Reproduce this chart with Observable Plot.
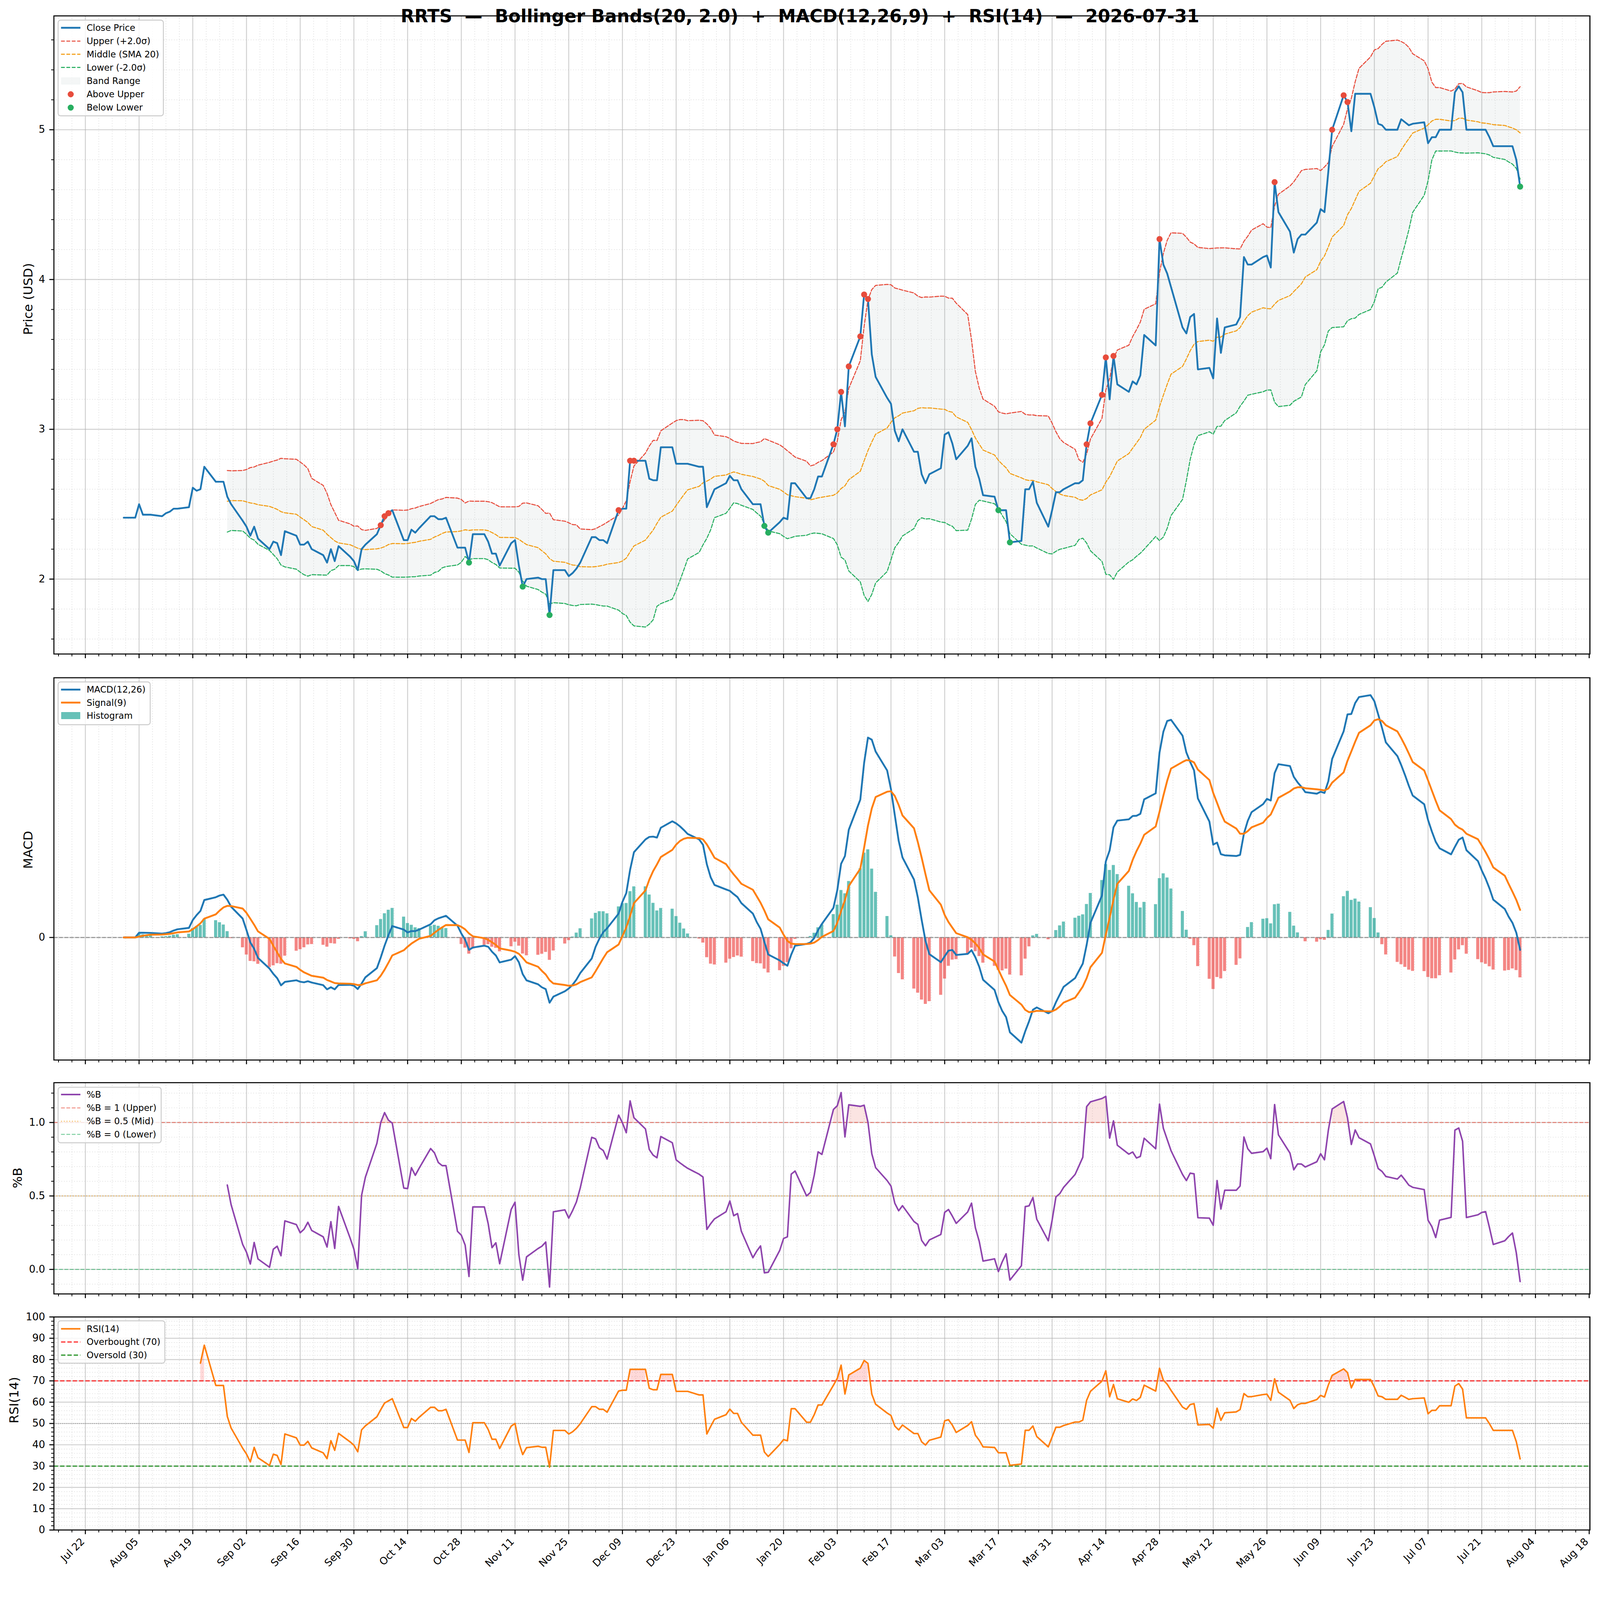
<!DOCTYPE html>
<html><head><meta charset="utf-8">
<script src="https://cdn.jsdelivr.net/npm/d3@7"></script>
<script src="https://cdn.jsdelivr.net/npm/@observablehq/plot@0.6"></script>
<style>
html,body{margin:0;padding:0;background:#fff;overflow:hidden;}
#page{position:relative;width:4378px;height:4322px;overflow:hidden;font-family:"DejaVu Sans",sans-serif;background:#fff;transform-origin:0 0;}
#page > svg{position:absolute;left:0;max-width:none;}
</style></head><body><div id="page"></div>
<script>
// ---------------- DATA ----------------
const dates = [
"2025-08-01",
"2025-08-04","2025-08-05","2025-08-06","2025-08-07","2025-08-08",
"2025-08-11","2025-08-12","2025-08-13","2025-08-14","2025-08-15",
"2025-08-18","2025-08-19","2025-08-20","2025-08-21","2025-08-22",
"2025-08-25","2025-08-26","2025-08-27","2025-08-28","2025-08-29",
"2025-09-01","2025-09-02","2025-09-03","2025-09-04","2025-09-05",
"2025-09-08","2025-09-09","2025-09-10","2025-09-11","2025-09-12",
"2025-09-15","2025-09-16","2025-09-17","2025-09-18","2025-09-19",
"2025-09-22","2025-09-23","2025-09-24","2025-09-25","2025-09-26",
"2025-09-29","2025-09-30","2025-10-01","2025-10-02","2025-10-03",
"2025-10-06","2025-10-07","2025-10-08","2025-10-09","2025-10-10",
"2025-10-13","2025-10-14","2025-10-15","2025-10-16","2025-10-17",
"2025-10-20","2025-10-21","2025-10-22","2025-10-23","2025-10-24",
"2025-10-27","2025-10-28","2025-10-29","2025-10-30","2025-10-31",
"2025-11-03","2025-11-04","2025-11-05","2025-11-06","2025-11-07",
"2025-11-10","2025-11-11","2025-11-12","2025-11-13","2025-11-14",
"2025-11-17","2025-11-18","2025-11-19","2025-11-20","2025-11-21",
"2025-11-24","2025-11-25","2025-11-26","2025-11-27","2025-11-28",
"2025-12-01","2025-12-02","2025-12-03","2025-12-04","2025-12-05",
"2025-12-08","2025-12-09","2025-12-10","2025-12-11","2025-12-12",
"2025-12-15","2025-12-16","2025-12-17","2025-12-18","2025-12-19",
"2025-12-22","2025-12-23","2025-12-24","2025-12-25","2025-12-26",
"2025-12-29","2025-12-30","2025-12-31","2026-01-01","2026-01-02",
"2026-01-05","2026-01-06","2026-01-07","2026-01-08","2026-01-09",
"2026-01-12","2026-01-13","2026-01-14","2026-01-15","2026-01-16",
"2026-01-19","2026-01-20","2026-01-21","2026-01-22","2026-01-23",
"2026-01-26","2026-01-27","2026-01-28","2026-01-29","2026-01-30",
"2026-02-02","2026-02-03","2026-02-04","2026-02-05","2026-02-06",
"2026-02-09","2026-02-10","2026-02-11","2026-02-12","2026-02-13",
"2026-02-16","2026-02-17","2026-02-18","2026-02-19","2026-02-20",
"2026-02-23","2026-02-24","2026-02-25","2026-02-26","2026-02-27",
"2026-03-02","2026-03-03","2026-03-04","2026-03-05","2026-03-06",
"2026-03-09","2026-03-10","2026-03-11","2026-03-12","2026-03-13",
"2026-03-16","2026-03-17","2026-03-18","2026-03-19","2026-03-20",
"2026-03-23","2026-03-24","2026-03-25","2026-03-26","2026-03-27",
"2026-03-30","2026-03-31","2026-04-01","2026-04-02","2026-04-03",
"2026-04-06","2026-04-07","2026-04-08","2026-04-09","2026-04-10",
"2026-04-13","2026-04-14","2026-04-15","2026-04-16","2026-04-17",
"2026-04-20","2026-04-21","2026-04-22","2026-04-23","2026-04-24",
"2026-04-27","2026-04-28","2026-04-29","2026-04-30","2026-05-01",
"2026-05-04","2026-05-05","2026-05-06","2026-05-07","2026-05-08",
"2026-05-11","2026-05-12","2026-05-13","2026-05-14","2026-05-15",
"2026-05-18","2026-05-19","2026-05-20","2026-05-21","2026-05-22",
"2026-05-25","2026-05-26","2026-05-27","2026-05-28","2026-05-29",
"2026-06-01","2026-06-02","2026-06-03","2026-06-04","2026-06-05",
"2026-06-08","2026-06-09","2026-06-10","2026-06-11","2026-06-12",
"2026-06-15","2026-06-16","2026-06-17","2026-06-18","2026-06-19",
"2026-06-22","2026-06-23","2026-06-24","2026-06-25","2026-06-26",
"2026-06-29","2026-06-30","2026-07-01","2026-07-02","2026-07-03",
"2026-07-06","2026-07-07","2026-07-08","2026-07-09","2026-07-10",
"2026-07-13","2026-07-14","2026-07-15","2026-07-16","2026-07-17",
"2026-07-20","2026-07-21","2026-07-22","2026-07-23","2026-07-24",
"2026-07-27","2026-07-28","2026-07-29","2026-07-30","2026-07-31"
];
const closes = [
2.41,
2.41,2.50,2.43,2.43,2.43,
2.42,2.44,2.45,2.47,2.47,
2.48,2.61,2.59,2.60,2.75,
2.65,2.65,2.65,2.55,2.50,
2.39,2.35,2.29,2.35,2.27,
2.20,2.25,2.24,2.16,2.32,
2.29,2.23,2.23,2.25,2.20,
2.16,2.11,2.20,2.12,2.22,
2.15,2.12,2.06,2.20,2.23,
2.30,2.36,2.42,2.44,2.46,
2.26,2.26,2.33,2.31,2.34,
2.42,2.42,2.40,2.40,2.41,
2.21,2.21,2.21,2.11,2.30,
2.30,2.25,2.17,2.17,2.09,
2.24,2.26,2.09,1.95,2.00,
2.01,2.00,2.00,1.76,2.06,
2.06,2.02,2.04,2.07,2.11,
2.28,2.28,2.26,2.26,2.24,
2.46,2.47,2.47,2.79,2.79,
2.79,2.67,2.66,2.66,2.88,
2.88,2.77,2.77,2.77,2.77,
2.75,2.75,2.48,2.54,2.60,
2.64,2.69,2.66,2.66,2.60,
2.50,2.50,2.50,2.355,2.31,
2.38,2.41,2.40,2.64,2.64,
2.54,2.54,2.60,2.685,2.685,
2.90,3.00,3.25,3.02,3.42,
3.62,3.90,3.87,3.50,3.35,
3.21,3.17,2.99,2.92,3.00,
2.85,2.85,2.70,2.64,2.70,
2.74,2.965,2.98,2.905,2.80,
2.89,2.94,2.75,2.67,2.56,
2.55,2.46,2.46,2.46,2.245,
2.255,2.60,2.60,2.65,2.51,
2.35,2.46,2.58,2.58,2.60,
2.64,2.64,2.66,2.90,3.04,
3.23,3.48,3.20,3.49,3.30,
3.25,3.32,3.30,3.36,3.63,
3.56,4.27,4.10,4.04,3.95,
3.68,3.64,3.75,3.77,3.40,
3.41,3.34,3.74,3.51,3.68,
3.70,3.75,4.15,4.10,4.10,
4.15,4.16,4.08,4.65,4.45,
4.32,4.18,4.27,4.30,4.30,
4.38,4.47,4.45,4.72,5.00,
5.23,5.185,4.99,5.24,5.24,
5.24,5.15,5.04,5.03,5.00,
5.00,5.07,5.05,5.03,5.04,
5.05,4.91,4.95,4.95,5.00,
5.00,5.25,5.29,5.25,5.00,
5.00,5.00,5.00,4.95,4.89,
4.89,4.89,4.89,4.80,4.62
];
const titleText = "RRTS  —  Bollinger Bands(20, 2.0)  +  MACD(12,26,9)  +  RSI(14)  —  2026-07-31";
const priceTicks = [2, 3, 4, 5];
const pctBTicks = [0, 0.5, 1.0];
const rsiTicks = [0, 10, 20, 30, 40, 50, 60, 70, 80, 90, 100];
const macdTicks = [0];
const priceLegend = ["Close Price", "Upper (+2.0σ)", "Middle (SMA 20)", "Lower (-2.0σ)", "Band Range", "Above Upper", "Below Lower"];
const macdLegend = ["MACD(12,26)", "Signal(9)", "Histogram"];
const pbLegend = ["%B", "%B = 1 (Upper)", "%B = 0.5 (Mid)", "%B = 0 (Lower)"];
const rsiLegend = ["RSI(14)", "Overbought (70)", "Oversold (30)"];

// ---------------- DERIVED INDICATORS (chart definitions) ----------------
const W = 4378, H = 4322, DAY = 864e5;
const page = document.getElementById("page");
const vw = window.innerWidth || document.documentElement.clientWidth || W;
const vh = window.innerHeight || document.documentElement.clientHeight || H;
const fitScale = Math.min(1, vw / W, vh / H);
if (fitScale < 0.999) page.style.transform = "scale(" + fitScale + ")";

const parse = d3.utcParse("%Y-%m-%d");
const N = closes.length;
if (dates.length !== N) console.error("length mismatch", dates.length, N);
const rows = dates.map((s, i) => ({date: parse(s), close: closes[i]}));
const bandRows = [];
rows.forEach((r, i) => {
  if (i >= 19) {
    const w = closes.slice(i - 19, i + 1);
    const m = d3.mean(w), sd = d3.deviation(w);
    r.mid = m; r.upper = m + 2 * sd; r.lower = m - 2 * sd;
    r.pb = (r.close - r.lower) / (r.upper - r.lower);
    bandRows.push(r);
  }
});
function ema(vals, span) {
  const a = 2 / (span + 1), out = [];
  vals.forEach((v, i) => out.push(i === 0 ? v : a * v + (1 - a) * out[i - 1]));
  return out;
}
const e12 = ema(closes, 12), e26 = ema(closes, 26);
const macd = closes.map((_, i) => e12[i] - e26[i]);
const sig = ema(macd, 9);
rows.forEach((r, i) => { r.macd = macd[i]; r.signal = sig[i]; r.hist = macd[i] - sig[i]; });
{
  let G = 0, L = 0; const a = 1 / 14;
  for (let i = 1; i < N; i++) {
    const d = closes[i] - closes[i - 1];
    const g = Math.max(d, 0), l = Math.max(-d, 0);
    if (i === 1) { G = g; L = l; } else { G = (1 - a) * G + a * g; L = (1 - a) * L + a * l; }
    if (i >= 14) rows[i].rsi = L === 0 ? 100 : 100 - 100 / (1 + G / L);
  }
}
const rsiRows = rows.filter(r => r.rsi !== undefined);
const above = bandRows.filter(r => r.close > r.upper);
const below = bandRows.filter(r => r.close < r.lower);

// ---------------- SCALES / TICKS ----------------
const t0 = +rows[0].date, t1 = +rows[N - 1].date, span = t1 - t0;
const xDomain = [new Date(t0 - 0.05 * span), new Date(t1 + 0.05 * span)];
const xMajor = [], xMinor = [];
const base = Date.UTC(2025, 6, 22);
for (let k = -8; k * 3.5 * DAY + base <= +xDomain[1]; k++) {
  const t = base + k * 3.5 * DAY;
  if (t < +xDomain[0]) continue;
  if (k % 4 === 0) xMajor.push(new Date(t)); else xMinor.push(new Date(t));
}
const priceMinor = d3.range(8, 29).filter(k => k % 5 !== 0).map(k => k / 5);
const pbMinor = d3.range(-1, 13).filter(k => k % 5 !== 0).map(k => k / 10);
const rsiMinor = d3.range(0, 101, 2).filter(k => k % 10 !== 0);

const FONT = "DejaVu Sans";
const GRIDMAJ = {stroke: "#b0b0b0", strokeOpacity: 0.6, strokeWidth: 2.6};
const GRIDMIN = {stroke: "#b0b0b0", strokeOpacity: 0.45, strokeWidth: 1.8, strokeDasharray: "2,5"};
const blank = () => "";

function commonX(withLabels) {
  const out = [
    Plot.axisX(xMajor, {anchor: "bottom", tickSize: 12, strokeWidth: 2.8, tickFormat: blank, label: null}),
    Plot.axisX(xMinor, {anchor: "bottom", tickSize: 7, strokeWidth: 2.1, tickFormat: blank, label: null})
  ];
  if (withLabels) out.push(
    Plot.axisX(xMajor, {anchor: "bottom", tickSize: 0, tickPadding: 27, dx: -7, tickRotate: -45, fontSize: 27.8,
      tickFormat: d3.utcFormat("%b %d"), label: null})
  );
  return out;
}
function place(svg, top) {
  svg.style.position = "absolute"; svg.style.top = top + "px"; svg.style.left = "0px";
  page.appendChild(svg);
}
const STYLE = {background: "transparent", overflow: "visible", fontFamily: FONT, color: "black", maxWidth: "none"};

// ---------------- PRICE PANEL ----------------
place(Plot.plot({
  width: W, height: 1830, marginTop: 43, marginBottom: 41, marginLeft: 147, marginRight: 28,
  style: STYLE,
  x: {type: "utc", domain: xDomain, axis: null},
  y: {domain: [1.5, 5.76], axis: null},
  marks: [
    Plot.gridX(xMinor, GRIDMIN), Plot.gridY(priceMinor, GRIDMIN),
    Plot.gridX(xMajor, GRIDMAJ), Plot.gridY(priceTicks, GRIDMAJ),
    Plot.areaY(bandRows, {x: "date", y1: "lower", y2: "upper", fill: "#95a5a6", fillOpacity: 0.1}),
    Plot.line(bandRows, {x: "date", y: "upper", stroke: "#e74c3c", strokeWidth: 2.8, strokeDasharray: "10.3,4.4"}),
    Plot.line(bandRows, {x: "date", y: "mid", stroke: "#f39c12", strokeWidth: 2.8, strokeDasharray: "10.3,4.4"}),
    Plot.line(bandRows, {x: "date", y: "lower", stroke: "#27ae60", strokeWidth: 2.8, strokeDasharray: "10.3,4.4"}),
    Plot.line(rows, {x: "date", y: "close", stroke: "#1f77b4", strokeWidth: 4.9}),
    Plot.dot(above, {x: "date", y: "close", r: 8.3, fill: "#e74c3c"}),
    Plot.dot(below, {x: "date", y: "close", r: 8.3, fill: "#27ae60"}),
    Plot.frame({stroke: "black", strokeWidth: 2.8}),
    ...commonX(false),
    Plot.axisY(priceTicks, {anchor: "left", tickSize: 12, tickPadding: 12, strokeWidth: 2.8, fontSize: 27.8, label: null, tickFormat: d => String(d)}),
    Plot.axisY(priceMinor, {anchor: "left", tickSize: 7, strokeWidth: 2.1, tickFormat: blank, label: null}),
    Plot.text(["Price (USD)"], {frameAnchor: "left", rotate: -90, dx: -70, fontSize: 34.7})
  ]
}), 0);

// ---------------- MACD PANEL ----------------
const mVals = rows.flatMap(r => [r.macd, r.signal, r.hist]);
const mLo = d3.min(mVals), mHi = d3.max(mVals), mPad = 0.05 * (mHi - mLo);
place(Plot.plot({
  width: W, height: 1100, marginTop: 24, marginBottom: 30, marginLeft: 147, marginRight: 28,
  style: STYLE,
  x: {type: "utc", domain: xDomain, axis: null},
  y: {domain: [mLo - mPad, mHi + mPad], axis: null},
  marks: [
    Plot.gridX(xMinor, GRIDMIN), Plot.gridX(xMajor, GRIDMAJ), Plot.gridY(macdTicks, GRIDMAJ),
    Plot.rect(rows, {x1: d => new Date(+d.date - 0.4 * DAY), x2: d => new Date(+d.date + 0.4 * DAY),
      y1: 0, y2: "hist", fill: d => d.hist >= 0 ? "#26a69a" : "#ef5350", fillOpacity: 0.7}),
    Plot.ruleY([0], {stroke: "#808080", strokeWidth: 2.8, strokeDasharray: "10.3,4.4", strokeOpacity: 0.8}),
    Plot.line(rows, {x: "date", y: "macd", stroke: "#1f77b4", strokeWidth: 5}),
    Plot.line(rows, {x: "date", y: "signal", stroke: "#ff7f0e", strokeWidth: 5}),
    Plot.frame({stroke: "black", strokeWidth: 2.8}),
    ...commonX(false),
    Plot.axisY(macdTicks, {anchor: "left", tickSize: 12, tickPadding: 12, strokeWidth: 2.8, fontSize: 27.8, label: null, tickFormat: d => String(d)}),
    Plot.text(["MACD"], {frameAnchor: "left", rotate: -90, dx: -70, fontSize: 34.7})
  ]
}), 1830);

// ---------------- %B PANEL ----------------
place(Plot.plot({
  width: W, height: 640, marginTop: 32, marginBottom: 30, marginLeft: 147, marginRight: 28,
  style: STYLE,
  x: {type: "utc", domain: xDomain, axis: null},
  y: {domain: [-0.1667, 1.271], axis: null},
  marks: [
    Plot.gridX(xMinor, GRIDMIN), Plot.gridY(pbMinor, GRIDMIN),
    Plot.gridX(xMajor, GRIDMAJ), Plot.gridY(pctBTicks, GRIDMAJ),
    Plot.areaY(bandRows, {x: "date", y1: 1, y2: d => d.pb > 1 ? d.pb : NaN, fill: "#e74c3c", fillOpacity: 0.15}),
    Plot.areaY(bandRows, {x: "date", y1: 0, y2: d => d.pb < 0 ? d.pb : NaN, fill: "#27ae60", fillOpacity: 0.15}),
    Plot.ruleY([1], {stroke: "#e74c3c", strokeOpacity: 0.6, strokeWidth: 2.8, strokeDasharray: "10.3,4.4"}),
    Plot.ruleY([0.5], {stroke: "#f39c12", strokeOpacity: 0.6, strokeWidth: 2.8, strokeDasharray: "2.8,4.6"}),
    Plot.ruleY([0], {stroke: "#27ae60", strokeOpacity: 0.6, strokeWidth: 2.8, strokeDasharray: "10.3,4.4"}),
    Plot.line(bandRows, {x: "date", y: "pb", stroke: "#8e44ad", strokeWidth: 4.2}),
    Plot.frame({stroke: "black", strokeWidth: 2.8}),
    ...commonX(false),
    Plot.axisY(pctBTicks, {anchor: "left", tickSize: 12, tickPadding: 12, strokeWidth: 2.8, fontSize: 27.8, label: null, tickFormat: d3.format(".1f")}),
    Plot.axisY(pbMinor, {anchor: "left", tickSize: 7, strokeWidth: 2.1, tickFormat: blank, label: null}),
    Plot.text(["%B"], {frameAnchor: "left", rotate: -90, dx: -99, fontSize: 34.7})
  ]
}), 2930);

// ---------------- RSI PANEL ----------------
place(Plot.plot({
  width: W, height: 752, marginTop: 33, marginBottom: 136, marginLeft: 147, marginRight: 28,
  style: STYLE,
  x: {type: "utc", domain: xDomain, axis: null},
  y: {domain: [0, 100], axis: null},
  marks: [
    Plot.gridX(xMinor, GRIDMIN), Plot.gridY(rsiMinor, GRIDMIN),
    Plot.gridX(xMajor, GRIDMAJ), Plot.gridY(rsiTicks, GRIDMAJ),
    Plot.areaY(rsiRows, {x: "date", y1: 70, y2: d => d.rsi > 70 ? d.rsi : NaN, fill: "red", fillOpacity: 0.15}),
    Plot.areaY(rsiRows, {x: "date", y1: 30, y2: d => d.rsi < 30 ? d.rsi : NaN, fill: "green", fillOpacity: 0.15}),
    Plot.ruleY([50], {stroke: "gray", strokeOpacity: 0.7, strokeWidth: 2.2, strokeDasharray: "2.2,3.6"}),
    Plot.ruleY([70], {stroke: "red", strokeOpacity: 0.8, strokeWidth: 3.3, strokeDasharray: "12,5.3"}),
    Plot.ruleY([30], {stroke: "green", strokeOpacity: 0.8, strokeWidth: 3.3, strokeDasharray: "12,5.3"}),
    Plot.line(rsiRows, {x: "date", y: "rsi", stroke: "#ff7f0e", strokeWidth: 4.2}),
    Plot.frame({stroke: "black", strokeWidth: 2.8}),
    ...commonX(true),
    Plot.axisY(rsiTicks, {anchor: "left", tickSize: 12, tickPadding: 12, strokeWidth: 2.8, fontSize: 27.8, label: null, tickFormat: d => String(d)}),
    Plot.axisY(rsiMinor, {anchor: "left", tickSize: 7, strokeWidth: 2.1, tickFormat: blank, label: null}),
    Plot.text(["RSI(14)"], {frameAnchor: "left", rotate: -90, dx: -108, fontSize: 34.7})
  ]
}), 3570);

// ---------------- OVERLAY: TITLE + LEGENDS ----------------
const ov = d3.select(page).append("svg")
  .attr("width", W).attr("height", H)
  .style("position", "absolute").style("top", "0px").style("left", "0px").style("max-width", "none")
  .style("font-family", "'DejaVu Sans', sans-serif").style("pointer-events", "none");
ov.append("text").attr("x", 2189).attr("y", 61).attr("text-anchor", "middle")
  .attr("font-size", 48.7).attr("font-weight", "bold").style("white-space", "pre").text(titleText);

function legend(box, rowsY, items) {
  const g = ov.append("g");
  g.append("rect").attr("x", box[0]).attr("y", box[1]).attr("width", box[2] - box[0]).attr("height", box[3] - box[1])
    .attr("rx", 7).attr("fill", "white").attr("fill-opacity", 0.8).attr("stroke", "#cccccc").attr("stroke-width", 2.6);
  items.forEach((it, i) => {
    const y = rowsY[i];
    if (it.kind === "line") {
      g.append("line").attr("x1", 167).attr("x2", 220).attr("y1", y).attr("y2", y)
        .attr("stroke", it.color).attr("stroke-width", it.w).attr("stroke-opacity", it.op ?? 1)
        .attr("stroke-dasharray", it.dash || null);
    } else if (it.kind === "patch") {
      g.append("rect").attr("x", 168).attr("y", y - 9).attr("width", 51).attr("height", 18)
        .attr("fill", it.color).attr("fill-opacity", it.op).attr("stroke", it.color).attr("stroke-opacity", it.op);
    } else if (it.kind === "dot") {
      g.append("circle").attr("cx", 193.5).attr("cy", y).attr("r", 8.3).attr("fill", it.color);
    }
    g.append("text").attr("x", 237).attr("y", y).attr("dy", "0.35em").attr("font-size", 24.3).text(it.label);
  });
}
legend([159, 55, 447, 317], [76, 112.5, 148.5, 184.5, 221.5, 258, 294.5], [
  {kind: "line", color: "#1f77b4", w: 4.9, label: priceLegend[0]},
  {kind: "line", color: "#e74c3c", w: 2.8, dash: "10.3,4.4", label: priceLegend[1]},
  {kind: "line", color: "#f39c12", w: 2.8, dash: "10.3,4.4", label: priceLegend[2]},
  {kind: "line", color: "#27ae60", w: 2.8, dash: "10.3,4.4", label: priceLegend[3]},
  {kind: "patch", color: "#95a5a6", op: 0.1, label: priceLegend[4]},
  {kind: "dot", color: "#e74c3c", label: priceLegend[5]},
  {kind: "dot", color: "#27ae60", label: priceLegend[6]}
]);
legend([159, 1866, 411, 1983], [1887, 1922.5, 1958], [
  {kind: "line", color: "#1f77b4", w: 5, label: macdLegend[0]},
  {kind: "line", color: "#ff7f0e", w: 5, label: macdLegend[1]},
  {kind: "patch", color: "#26a69a", op: 0.7, label: macdLegend[2]}
]);
legend([159, 2975, 441, 3127], [2995, 3031.5, 3068, 3104], [
  {kind: "line", color: "#8e44ad", w: 4.2, label: pbLegend[0]},
  {kind: "line", color: "#e74c3c", w: 2.8, op: 0.6, dash: "10.3,4.4", label: pbLegend[1]},
  {kind: "line", color: "#f39c12", w: 2.8, op: 0.6, dash: "2.8,4.6", label: pbLegend[2]},
  {kind: "line", color: "#27ae60", w: 2.8, op: 0.6, dash: "10.3,4.4", label: pbLegend[3]}
]);
legend([159, 3614, 451, 3730], [3636, 3672, 3708], [
  {kind: "line", color: "#ff7f0e", w: 4.2, label: rsiLegend[0]},
  {kind: "line", color: "red", w: 3.3, op: 0.8, dash: "12,5.3", label: rsiLegend[1]},
  {kind: "line", color: "green", w: 3.3, op: 0.8, dash: "12,5.3", label: rsiLegend[2]}
]);
</script></body></html>
